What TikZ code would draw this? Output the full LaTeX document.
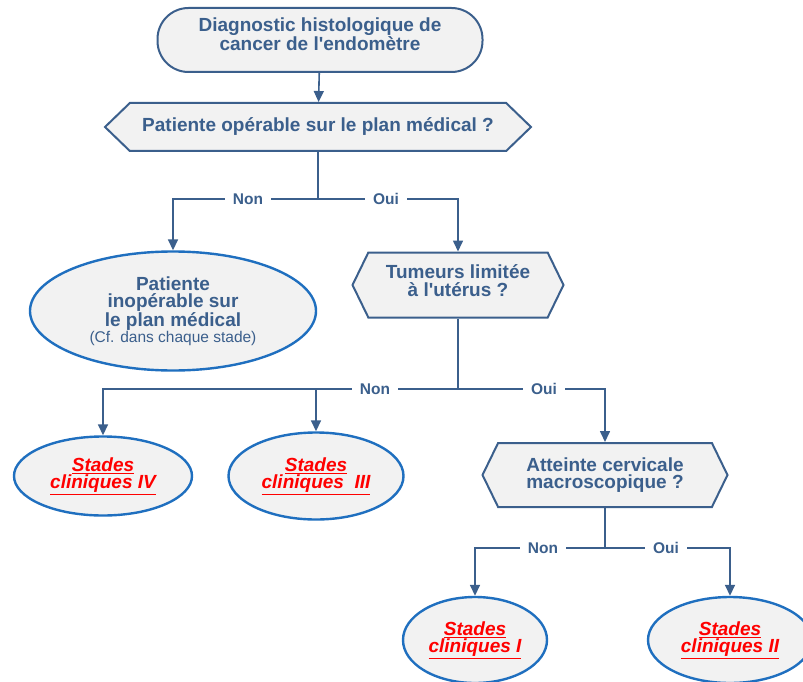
\documentclass[tikz,border=0pt]{standalone}
\usepackage{fontspec}
\setmainfont{Liberation Sans}[Ligatures=TeXOff]
\usetikzlibrary{shapes.geometric,shapes.symbols,arrows.meta}
\definecolor{navy}{HTML}{3B5F8C}
\definecolor{rim}{HTML}{1F6FBF}
\definecolor{pale}{HTML}{F2F2F2}

\begin{document}
\begin{tikzpicture}[x=1pt, y=-1pt,
	txt/.style={text=navy, font=\fontsize{19}{17.5}\selectfont\bfseries, align=center},
	startbox/.style={txt, draw=navy, line width=2pt, fill=pale, rectangle, rounded corners=31pt, minimum width=325pt, minimum height=64pt},
	ask/.style={txt, draw=navy, line width=2pt, fill=pale, signal, signal to=west and east, inner xsep=0pt},
	oval/.style={txt, draw=rim, line width=2.4pt, fill=pale, ellipse, inner sep=0pt},
	stage/.style={oval, text=red, font=\fontsize{19}{17.5}\selectfont\bfseries\itshape},
	link/.style={draw=navy, line width=1.6pt},
	arr/.style={link, -{Triangle[width=10pt,length=11pt]}},
	lab/.style={text=navy, font=\fontsize{15.5}{15}\selectfont\bfseries, fill=white, inner xsep=8pt, inner ysep=1pt}]
	\useasboundingbox (0,0) rectangle (803,682);

	\node[startbox, text depth=12pt] (start) at (320,40) {Diagnostic histologique de\\cancer de l'endomètre};
	\node[ask, signal pointer angle=88, minimum width=426pt, minimum height=48pt] (q1) at (318,127) {Patiente opérable sur le plan médical ?};
	\node[oval, minimum width=286pt, minimum height=119pt] (nonop) at (173,311) {Patiente\\inopérable sur\\le plan médical\\[-2pt]{\fontsize{15.5}{15}\selectfont\mdseries (Cf. dans chaque stade)}};
	\node[ask, text depth=9pt, signal pointer angle=128, minimum width=211pt, minimum height=65pt] (q2) at (458,285) {Tumeurs limitée\\à l'utérus ?};
	\node[stage, minimum width=178pt, minimum height=79pt] (s4) at (103,476) {\underline{Stades}\\\underline{cliniques IV}};
	\node[stage, minimum width=175pt, minimum height=87pt] (s3) at (316,476) {\underline{Stades}\\\underline{cliniques~ III}};
	\node[ask, signal pointer angle=128, minimum width=245pt, minimum height=64pt] (q3) at (605,475) {Atteinte cervicale\\macroscopique ?};
	\node[stage, minimum width=144pt, minimum height=86pt] (s1) at (475,640) {\underline{Stades}\\\underline{cliniques I}};
	\node[stage, minimum width=164pt, minimum height=86pt] (s2) at (730,640) {\underline{Stades}\\\underline{cliniques II}};

	\coordinate (j1) at (318,199);
	\coordinate (j2) at (458,389);
	\coordinate (j3) at (605,548);

	\draw[arr] (start) -- (q1);
	\draw[link] (q1.south) -- (j1);
	\draw[arr] (j1) -| (nonop.north);
	\draw[arr] (j1) -| (q2.north);
	\draw[link] (q2.south) -- (j2);
	\draw[arr] (j2) -| (s4.north);
	\draw[arr] (j2) -| (s3.north);
	\draw[arr] (j2) -| (q3.north);
	\draw[link] (q3.south) -- (j3);
	\draw[arr] (j3) -| (s1.north);
	\draw[arr] (j3) -| (s2.north);

	\node[lab] (n1) at (248,199) {Non};
	\node[lab] (o1) at (386,199) {Oui};
	\node[lab] (n2) at (375,389) {Non};
	\node[lab] (o2) at (544,389) {Oui};
	\node[lab] (n3) at (543,548) {Non};
	\node[lab] (o3) at (666,548) {Oui};
\end{tikzpicture}
\end{document}
